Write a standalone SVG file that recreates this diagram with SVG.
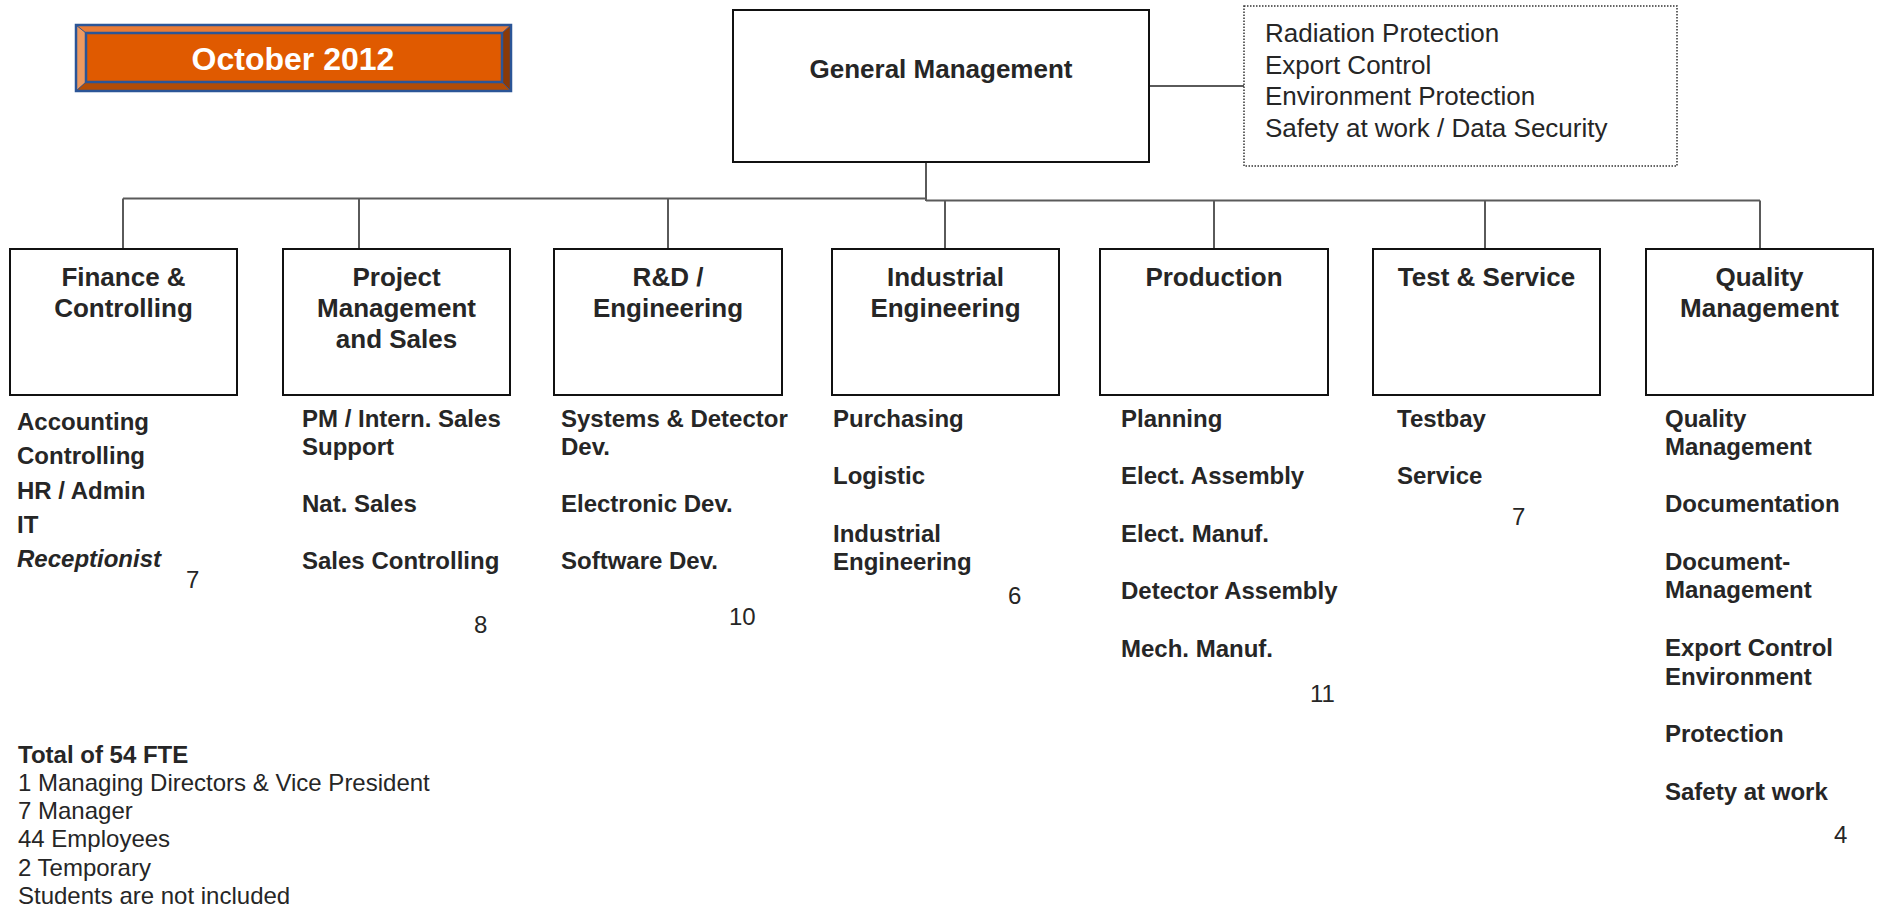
<svg xmlns="http://www.w3.org/2000/svg" width="1877" height="910" viewBox="0 0 1877 910">
  <style>
    .box { fill: #ffffff; stroke: #111111; stroke-width: 2; }
    .wire { fill: none; stroke: #5a5a5a; stroke-width: 2; }
    .head { font-family: "Liberation Sans", Arial, sans-serif; font-weight: bold; font-size: 26px; fill: #262626; text-anchor: middle; }
    .item { font-family: "Liberation Sans", Arial, sans-serif; font-weight: bold; font-size: 24px; fill: #262626; }
    .count { font-family: "Liberation Sans", Arial, sans-serif; font-size: 24px; fill: #262626; }
    .note { font-family: "Liberation Sans", Arial, sans-serif; font-size: 26px; fill: #262626; }
    .foot { font-family: "Liberation Sans", Arial, sans-serif; font-size: 24px; fill: #262626; }
  </style>
  <rect width="1877" height="910" fill="#ffffff"/>

  <!-- date banner with bevelled frame -->
  <g id="banner">
    <rect x="76" y="25" width="435" height="66" fill="#E05A00"/>
    <polygon points="76,25 511,25 502,33 86,33" fill="#E87B36"/>
    <polygon points="76,25 86,33 86,82 76,91" fill="#EE9A60"/>
    <polygon points="511,25 511,91 502,82 502,33" fill="#8A3A08"/>
    <polygon points="76,91 86,82 502,82 511,91" fill="#B24C06"/>
    <g fill="none" stroke="#2B5597" stroke-width="2.5">
      <rect x="76" y="25" width="435" height="66"/>
      <rect x="86" y="33" width="416" height="49"/>
      <path d="M76 25 L86 33 M511 25 L502 33 M76 91 L86 82 M511 91 L502 82" stroke-width="1"/>
    </g>
    <text x="293" y="70" font-family="'Liberation Sans', Arial, sans-serif" font-weight="bold" font-size="32" fill="#ffffff" text-anchor="middle">October 2012</text>
  </g>

  <!-- connectors -->
  <g id="connectors">
    <path class="wire" d="M1149 86 H1244"/>
    <path class="wire" d="M926 162 V201"/>
    <path class="wire" d="M123 198.5 H926"/>
    <path class="wire" d="M926 200.5 H1760"/>
    <path class="wire" d="M123 198.5 V249"/>
    <path class="wire" d="M359 198.5 V249"/>
    <path class="wire" d="M668 198.5 V249"/>
    <path class="wire" d="M945 200.5 V249"/>
    <path class="wire" d="M1214 200.5 V249"/>
    <path class="wire" d="M1485 200.5 V249"/>
    <path class="wire" d="M1760 200.5 V249"/>
  </g>

  <g id="general-management">
    <rect class="box" x="733" y="10" width="416" height="152"/>
    <text class="head" x="941" y="78">General Management</text>
  </g>

  <g id="staff-functions">
    <rect x="1244" y="6" width="433" height="160" fill="#ffffff" stroke="#333333" stroke-width="1.5" stroke-dasharray="1.5 1.5"/>
    <text class="note" x="1265" y="42">Radiation Protection</text>
    <text class="note" x="1265" y="74">Export Control</text>
    <text class="note" x="1265" y="105">Environment Protection</text>
    <text class="note" x="1265" y="137">Safety at work / Data Security</text>
  </g>

  <g id="finance">
    <rect class="box" x="10" y="249" width="227" height="146"/>
    <text class="head" x="123.5" y="286">Finance &amp;</text>
    <text class="head" x="123.5" y="317">Controlling</text>
    <text class="item" x="17" y="430">Accounting</text>
    <text class="item" x="17" y="464">Controlling</text>
    <text class="item" x="17" y="499">HR / Admin</text>
    <text class="item" x="17" y="533">IT</text>
    <text class="item" x="17" y="567" font-style="italic">Receptionist</text>
    <text class="count" x="186" y="588">7</text>
  </g>

  <g id="project-sales">
    <rect class="box" x="283" y="249" width="227" height="146"/>
    <text class="head" x="396.5" y="286">Project</text>
    <text class="head" x="396.5" y="317">Management</text>
    <text class="head" x="396.5" y="348">and Sales</text>
    <text class="item" x="302" y="427">PM / Intern. Sales</text>
    <text class="item" x="302" y="455">Support</text>
    <text class="item" x="302" y="512">Nat. Sales</text>
    <text class="item" x="302" y="569">Sales Controlling</text>
    <text class="count" x="474" y="633">8</text>
  </g>

  <g id="rd-engineering">
    <rect class="box" x="554" y="249" width="228" height="146"/>
    <text class="head" x="668" y="286">R&amp;D /</text>
    <text class="head" x="668" y="317">Engineering</text>
    <text class="item" x="561" y="427">Systems &amp; Detector</text>
    <text class="item" x="561" y="455">Dev.</text>
    <text class="item" x="561" y="512">Electronic Dev.</text>
    <text class="item" x="561" y="569">Software Dev.</text>
    <text class="count" x="729" y="625">10</text>
  </g>

  <g id="industrial-engineering">
    <rect class="box" x="832" y="249" width="227" height="146"/>
    <text class="head" x="945.5" y="286">Industrial</text>
    <text class="head" x="945.5" y="317">Engineering</text>
    <text class="item" x="833" y="427">Purchasing</text>
    <text class="item" x="833" y="484">Logistic</text>
    <text class="item" x="833" y="542">Industrial</text>
    <text class="item" x="833" y="570">Engineering</text>
    <text class="count" x="1008" y="604">6</text>
  </g>

  <g id="production">
    <rect class="box" x="1100" y="249" width="228" height="146"/>
    <text class="head" x="1214" y="286">Production</text>
    <text class="item" x="1121" y="427">Planning</text>
    <text class="item" x="1121" y="484">Elect. Assembly</text>
    <text class="item" x="1121" y="542">Elect. Manuf.</text>
    <text class="item" x="1121" y="599">Detector Assembly</text>
    <text class="item" x="1121" y="657">Mech. Manuf.</text>
    <text class="count" x="1310" y="702">11</text>
  </g>

  <g id="test-service">
    <rect class="box" x="1373" y="249" width="227" height="146"/>
    <text class="head" x="1486.5" y="286">Test &amp; Service</text>
    <text class="item" x="1397" y="427">Testbay</text>
    <text class="item" x="1397" y="484">Service</text>
    <text class="count" x="1512" y="525">7</text>
  </g>

  <g id="quality-management">
    <rect class="box" x="1646" y="249" width="227" height="146"/>
    <text class="head" x="1759.5" y="286">Quality</text>
    <text class="head" x="1759.5" y="317">Management</text>
    <text class="item" x="1665" y="427">Quality</text>
    <text class="item" x="1665" y="455">Management</text>
    <text class="item" x="1665" y="512">Documentation</text>
    <text class="item" x="1665" y="570">Document-</text>
    <text class="item" x="1665" y="598">Management</text>
    <text class="item" x="1665" y="656">Export Control</text>
    <text class="item" x="1665" y="685">Environment</text>
    <text class="item" x="1665" y="742">Protection</text>
    <text class="item" x="1665" y="800">Safety at work</text>
    <text class="count" x="1834" y="843">4</text>
  </g>

  <g id="headcount">
    <text class="item" x="18" y="763">Total of 54 FTE</text>
    <text class="foot" x="18" y="791">1 Managing Directors &amp; Vice President</text>
    <text class="foot" x="18" y="819">7 Manager</text>
    <text class="foot" x="18" y="847">44 Employees</text>
    <text class="foot" x="18" y="876">2 Temporary</text>
    <text class="foot" x="18" y="904">Students are not included</text>
  </g>
</svg>
